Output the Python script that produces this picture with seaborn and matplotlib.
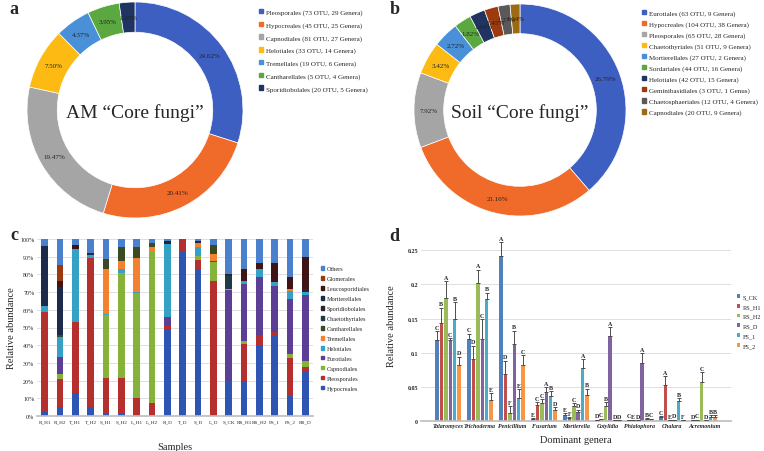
import numpy as np
import pandas as pd
import matplotlib
matplotlib.use('Agg')
import matplotlib.pyplot as plt
from matplotlib.patches import Patch
from matplotlib.ticker import PercentFormatter
import seaborn as sns

# ── a. AM core fungi (donut) ─────────────────
am_labels = ['Pleosporales (73 OTU, 29 Genera)', 'Hypocreales (45 OTU, 25 Genera)',
             'Capnodiales (81 OTU, 27 Genera)', 'Helotiales (33 OTU, 14 Genera)',
             'Tremellales (19 OTU, 6 Genera)', 'Cantharellales (5 OTU, 4 Genera)',
             'Sporidiobolales (20 OTU, 5 Genera)']
am_pct = [24.62, 20.41, 19.47, 7.50, 4.37, 3.95, 1.93]
am_colors = ['#3E5FC2', '#F06A2A', '#A5A5A5', '#FDBA12', '#4A90D9', '#5AA83F', '#1F3461']

# ── b. Soil core fungi (donut) ───────────────
soil_labels = ['Eurotiales (63 OTU, 9 Genera)', 'Hypocreales (104 OTU, 38 Genera)',
               'Pleosporales (65 OTU, 28 Genera)', 'Chaetothyriales (51 OTU, 9 Genera)',
               'Mortierellales (27 OTU, 2 Genera)', 'Sordariales (44 OTU, 16 Genera)',
               'Helotiales (42 OTU, 15 Genera)', 'Geminibasidiales (3 OTU, 1 Genus)',
               'Chaetosphaeriales (12 OTU, 4 Genera)', 'Capnodiales (20 OTU, 9 Genera)']
soil_pct = [26.79, 21.16, 7.92, 3.42, 2.72, 1.82, 1.64, 1.45, 1.27, 1.04]
soil_colors = ['#3E5FC2', '#F06A2A', '#A5A5A5', '#FDBA12', '#4A90D9', '#5AA83F',
               '#1F3461', '#9E3A10', '#595959', '#9C6A12']

# ── c. order-level composition per sample (%) ─
samples = ['R_H1', 'R_H2', 'T_H1', 'T_H2', 'S_H1', 'S_H2', 'L_H1', 'L_H2', 'R_D',
           'T_D', 'S_D', 'L_D', 'S_CK', 'RS_H1', 'RS_H2', 'FS_1', 'FS_2', 'RS_D']
hypocreales = [2, 5.3, 12.8, 5.3, 1, 1, 0.5, 0, 49.2, 93.4, 83.3, 0, 19, 19.9, 39.8, 45.1, 11.4, 24.6]
pleosporales = [56.5, 15.5, 40.2, 83.9, 20.5, 20.4, 9.9, 7.5, 1.9, 6.6, 4.7, 76.1, 0.9, 20.8, 5.7, 2.2, 21.4, 2.9]
capnodiales = [0, 2.9, 0, 0, 35.5, 59.5, 59.1, 85.9, 0, 0, 2.3, 10.9, 0, 1.9, 0, 0, 2.2, 3.8]
eurotiales = [0, 9.8, 0, 0, 0, 0, 0, 0, 4.8, 0, 0, 0.7, 51.1, 31.8, 33.1, 26.2, 31.3, 36.9]
helotiales = [3.5, 11, 41.1, 1.5, 0.4, 1.9, 0.4, 0, 41.3, 0, 5.3, 0, 0, 1.9, 4.2, 2.3, 4.3, 1.9]
tremellales = [0, 0, 0, 0, 25.6, 4.9, 19.5, 2.2, 0, 0, 2.4, 3.8, 1, 0, 0, 0, 1.4, 0]
cantharellales = [0, 1, 0, 0, 5.6, 7.6, 6.3, 1.9, 0, 0, 0, 5.1, 0, 0, 0, 0, 0, 0]
chaetothyriales = [0, 0, 0, 0, 0, 0, 0, 0, 0, 0, 0, 0, 7.2, 0, 0, 0, 0, 0]
sporidiobolales = [0, 0, 0, 0, 0, 0, 0, 0, 1.8, 0, 1, 0, 1.3, 0, 0, 0, 0, 1.5]
mortierellales = [34, 27.4, 0, 1.5, 0, 0, 0, 0, 0, 0, 0, 0, 0, 0, 0, 0, 0, 0]
leucosporidiales = [0, 3.2, 2.5, 0, 0, 0, 0, 0, 0, 0, 0, 0, 0, 6.5, 3.8, 10.4, 6.6, 18]
glomerales = [0, 9.1, 0, 0, 0, 0, 0, 0, 0, 0, 0, 0, 0, 0, 0, 0, 0, 0]
others = [4, 14.8, 3.4, 7.8, 11.4, 4.7, 4.3, 2.5, 1, 0, 1, 3.4, 19.5, 17.2, 13.4, 13.8, 21.4, 10.4]

order_names = ['Hypocreales', 'Pleosporales', 'Capnodiales', 'Eurotiales', 'Helotiales',
               'Tremellales', 'Cantharellales', 'Chaetothyriales', 'Sporidiobolales',
               'Mortierellales', 'Leucosporidiales', 'Glomerales', 'Others']
order_colors = ['#2F55B4', '#B52F2F', '#86B23A', '#5B3F94', '#35A1C4', '#F5812F', '#3A4A22',
                '#1E3A44', '#26262E', '#1D2B4B', '#3E1414', '#9B3A12', '#4A80CC']

# ── d. dominant genera ───────────────────────
genera = ['Talaromyces', 'Trichoderma', 'Penicillium', 'Fusarium', 'Mortierella',
          'Cotylidia', 'Phialophora', 'Chalara', 'Acremonium']
groups = ['S_CK', 'RS_H1', 'RS_H2', 'RS_D', 'FS_1', 'FS_2']
s_ck = [0.119, 0.120, 0.242, 0.003, 0.009, 0.001, 0.001, 0.005, 0.0005]
rs_h1 = [0.144, 0.090, 0.068, 0.023, 0.004, 0.002, 0.0005, 0.052, 0.001]
rs_h2 = [0.180, 0.202, 0.011, 0.026, 0.021, 0.021, 0.0005, 0.0005, 0.057]
rs_d = [0.119, 0.120, 0.113, 0.042, 0.013, 0.124, 0.085, 0.001, 0.0005]
fs_1 = [0.150, 0.179, 0.033, 0.037, 0.078, 0.0005, 0.003, 0.029, 0.006]
fs_2 = [0.082, 0.030, 0.082, 0.016, 0.038, 0.0005, 0.002, 0.0005, 0.006]
s_ck_err = [0.012, 0.008, 0.020, 0.001, 0.002, 0.0005, 0.0005, 0.0015, 0.0005]
rs_h1_err = [0.022, 0.020, 0.020, 0.004, 0.001, 0.001, 0.0005, 0.013, 0.0005]
rs_h2_err = [0.025, 0.020, 0.010, 0.006, 0.005, 0.006, 0.0005, 0.0005, 0.014]
rs_d_err = [0.002, 0.029, 0.019, 0.007, 0.003, 0.013, 0.014, 0.0005, 0.0005]
fs_1_err = [0.024, 0.009, 0.013, 0.006, 0.012, 0.0005, 0.001, 0.004, 0.002]
fs_2_err = [0.012, 0.010, 0.014, 0.004, 0.009, 0.0005, 0.001, 0.0005, 0.002]
s_ck_sig = ['C', 'C', 'A', 'E', 'E', 'D', 'C', 'C', 'D']
rs_h1_sig = ['B', 'D', 'D', 'C', 'F', 'C', 'E', 'A', 'C']
rs_h2_sig = ['A', 'A', 'F', 'C', 'C', 'B', 'D', 'E', 'C']
rs_d_sig = ['C', 'C', 'B', 'A', 'D', 'A', 'A', 'D', 'D']
fs_1_sig = ['B', 'B', 'E', 'B', 'A', 'D', 'B', 'B', 'B']
fs_2_sig = ['D', 'E', 'C', 'D', 'B', 'D', 'C', 'F', 'B']
group_colors = ['#4F81BD', '#C0504D', '#9BBB59', '#8064A2', '#4BACC6', '#F79646']

sns.set_theme(style='white')
plt.rcParams['font.family'] = ['Liberation Serif', 'DejaVu Serif']

W, H = 764, 452
fig = plt.figure(figsize=(W / 100, H / 100), dpi=100)


def box(x0, y0, x1, y1):
    # pixel box (top-left origin) -> figure fraction rect
    return [x0 / W, 1 - y1 / H, (x1 - x0) / W, (y1 - y0) / H]


def donut(rect, pct, colors, labels, title, legend_xy, spacing):
    ax = fig.add_axes(rect)
    total = sum(pct)
    ax.pie(pct, colors=colors, startangle=90, counterclock=False, radius=1,
           autopct=lambda p: f'{p * total / 100:.2f}%', pctdistance=0.86,
           textprops=dict(fontsize=5, color='#222222'),
           wedgeprops=dict(width=0.28, edgecolor='white', linewidth=0.5))
    ax.set_xlim(-1, 1)
    ax.set_ylim(-1, 1)
    ax.text(0, -0.02, title, ha='center', va='center', fontsize=14)
    handles = [Patch(color=c) for c in colors]
    fig.legend(handles, labels, loc='upper left', bbox_to_anchor=legend_xy,
               frameon=False, fontsize=5, handlelength=0.6, handleheight=0.6,
               handletextpad=0.4, labelspacing=spacing, borderaxespad=0, borderpad=0)


donut(box(27, 3, 243, 219), am_pct, am_colors, am_labels, 'AM “Core fungi”',
      (259 / W, 1 - 10 / H), 0.97)
donut(box(414, 3, 626, 219), soil_pct, soil_colors, soil_labels, 'Soil “Core fungi”',
      (642 / W, 1 - 11 / H), 0.72)

# ── c. stacked bars ──────────────────────────
axc = fig.add_axes(box(37, 240, 313, 417))
series = [hypocreales, pleosporales, capnodiales, eurotiales, helotiales, tremellales,
          cantharellales, chaetothyriales, sporidiobolales, mortierellales,
          leucosporidiales, glomerales, others]
cum = np.cumsum(np.array(series), axis=0)
# draw top layer first, lower layers on top of it
for i in range(len(series) - 1, -1, -1):
    sns.barplot(x=samples, y=cum[i], color=order_colors[i], width=0.43,
                saturation=1, linewidth=0, ax=axc, zorder=2)
axc.set_ylim(0, 100)
axc.set_xlim(-0.5, len(samples) - 0.5)
axc.set_yticks(np.arange(0, 101, 10))
axc.yaxis.set_major_formatter(PercentFormatter(decimals=0))
axc.yaxis.grid(True, color='#d9d9d9', linewidth=0.6, zorder=0)
axc.set_axisbelow(True)
for s in ['top', 'right', 'left']:
    axc.spines[s].set_visible(False)
axc.spines['bottom'].set_color('#bfbfbf')
axc.tick_params(axis='y', length=0, pad=2, labelsize=4.3)
axc.tick_params(axis='x', length=0, pad=2.5, labelsize=3.7)
axc.set_xlabel('Samples', fontsize=7.5, labelpad=13)
axc.set_ylabel('Relative abundance', fontsize=7.5, labelpad=3)
handles_c = [Patch(color=c) for c in order_colors][::-1]
axc.legend(handles_c, order_names[::-1], loc='upper left',
           bbox_to_anchor=(321 / W, 1 - 267 / H), bbox_transform=fig.transFigure,
           frameon=False, fontsize=4.5, handlelength=0.55, handleheight=0.55,
           handletextpad=0.4, labelspacing=0.78, borderaxespad=0, borderpad=0)

# ── d. grouped bars with error bars ──────────
axd = fig.add_axes(box(421, 231, 731, 421.7))
vals = [s_ck, rs_h1, rs_h2, rs_d, fs_1, fs_2]
errs = [s_ck_err, rs_h1_err, rs_h2_err, rs_d_err, fs_1_err, fs_2_err]
sigs = [s_ck_sig, rs_h1_sig, rs_h2_sig, rs_d_sig, fs_1_sig, fs_2_sig]
df = pd.DataFrame({
    'genus': np.tile(genera, len(groups)),
    'group': np.repeat(groups, len(genera)),
    'value': np.concatenate(vals),
})
sns.barplot(data=df, x='genus', y='value', hue='group', palette=group_colors,
            width=0.84, gap=0.22, saturation=1, linewidth=0, errorbar=None,
            ax=axd, zorder=2)
for cont, e, sig in zip(axd.containers, errs, sigs):
    for bar, ev, lab in zip(cont, e, sig):
        xc = bar.get_x() + bar.get_width() / 2
        h = bar.get_height()
        axd.errorbar(xc, h, yerr=[[0], [ev]], fmt='none', ecolor='#4d4d4d',
                     elinewidth=0.7, capsize=1.2, capthick=0.7, zorder=3)
        axd.text(xc, h + ev + 0.002, lab, ha='center', va='bottom', fontsize=4.3,
                 fontweight='bold', color='#222222', zorder=4)
axd.set_ylim(0, 0.28)
axd.set_yticks([0, 0.05, 0.1, 0.15, 0.2, 0.25])
axd.set_yticklabels(['0', '0.05', '0.1', '0.15', '0.2', '0.25'])
axd.yaxis.grid(True, color='#d9d9d9', linewidth=0.6, zorder=0)
axd.set_axisbelow(True)
for s in ['top', 'right', 'left']:
    axd.spines[s].set_visible(False)
axd.spines['bottom'].set_color('#bfbfbf')
axd.tick_params(axis='both', length=0, pad=2, labelsize=4.3)
for t in axd.get_xticklabels():
    t.set_fontstyle('italic')
    t.set_fontweight('bold')
for t in axd.get_yticklabels():
    t.set_fontweight('bold')
axd.set_xlabel('Dominant genera', fontsize=7.5, labelpad=5)
axd.set_ylabel('Relative abundance', fontsize=7.5, labelpad=8)
axd.legend(loc='upper left', bbox_to_anchor=(737 / W, 1 - 295 / H),
           bbox_transform=fig.transFigure, frameon=False, fontsize=4.5,
           handlelength=0.55, handleheight=0.55, handletextpad=0.4,
           labelspacing=0.75, borderaxespad=0, borderpad=0)

# panel letters
for x, y, lab in [(14, 10, 'a'), (395, 10, 'b'), (14, 236, 'c'), (394, 237, 'd')]:
    fig.text(x / W, 1 - y / H, lab, fontsize=13, fontweight='bold', ha='center', va='center')

plt.savefig('out.png', dpi=100)
